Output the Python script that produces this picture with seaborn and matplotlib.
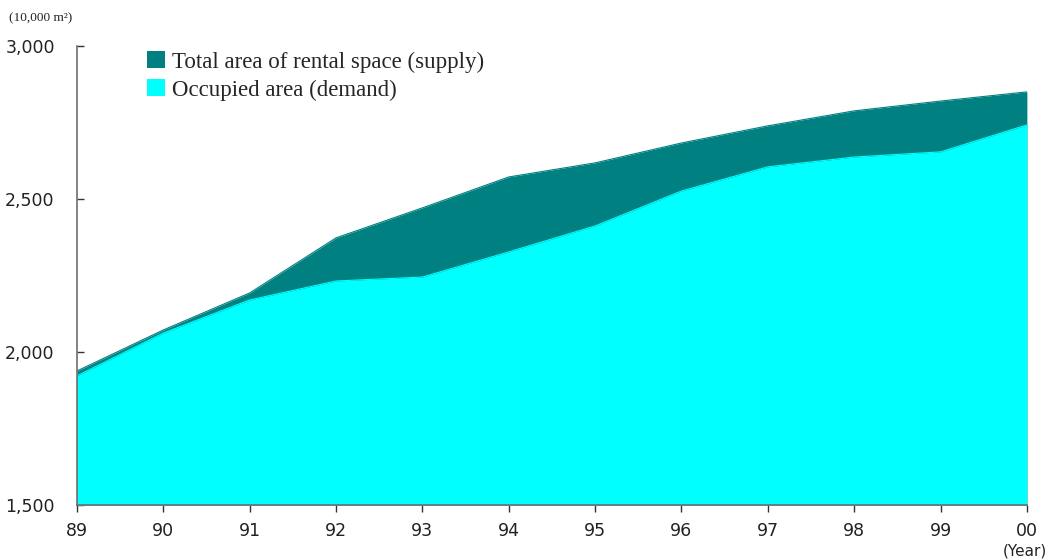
import matplotlib
matplotlib.use("Agg")
import matplotlib.pyplot as plt
import seaborn as sns
import pandas as pd
from matplotlib.patches import Patch

years = ["89", "90", "91", "92", "93", "94", "95", "96", "97", "98", "99", "00"]
supply = [1938, 2072, 2193, 2373, 2471, 2572, 2618, 2683, 2739, 2788, 2820, 2850]
demand = [1922, 2062, 2170, 2232, 2245, 2327, 2412, 2526, 2605, 2637, 2654, 2742]
yticks = [1500, 2000, 2500, 3000]

sns.set_style("white")
plt.rcParams["font.family"] = ["DejaVu Sans"]

df = pd.DataFrame({"pos": range(len(years)), "year": years,
                   "supply": supply, "demand": demand})

fig = plt.figure(figsize=(10.5, 5.6), dpi=100)
ax = fig.add_axes([0.0733, 0.0982, 0.9047, 0.8197])

teal = "#008080"
cyan = "#00FFFF"

# supply area behind, occupied area in front
ax.fill_between(df["pos"], 1500, df["supply"], color=teal, lw=0, zorder=1)
ax.fill_between(df["pos"], 1500, df["demand"], color=cyan, lw=0, zorder=2)
sns.lineplot(data=df, x="pos", y="supply", ax=ax, color=teal, lw=0.8, zorder=3)
sns.lineplot(data=df, x="pos", y="demand", ax=ax, color=cyan, lw=0.8, zorder=3)

ax.set_xlim(0, len(years) - 1)
ax.set_ylim(1500, 3000)
ax.set_xticks(range(len(years)))
ax.set_xticklabels(years)
ax.set_yticks(yticks)
ax.set_yticklabels([f"{v:,}" for v in yticks])
ax.set_xlabel("")
ax.set_ylabel("")

for s in ("top", "right"):
    ax.spines[s].set_visible(False)
for s in ("left", "bottom"):
    ax.spines[s].set_color("#6e6e6e")
    ax.spines[s].set_linewidth(1.2)
    ax.spines[s].set_zorder(5)

ax.tick_params(axis="y", direction="in", length=5, width=1, color="#333333",
               pad=16, labelsize=12.5, left=True)
ax.tick_params(axis="x", direction="out", length=5, width=1, color="#333333",
               pad=7, labelsize=12.5, bottom=True)
for lab in ax.get_xticklabels() + ax.get_yticklabels():
    lab.set_color("#222222")

fig.text(0.009, 0.968, "(10,000 m\u00b2)", family="Liberation Serif",
         fontsize=9.5, color="#222222", va="center", ha="left")
fig.text(0.9975, 0.016, "(Year)", fontsize=11, color="#222222",
         va="center", ha="right")

handles = [Patch(facecolor=teal, edgecolor="none"),
           Patch(facecolor=cyan, edgecolor="none")]
ax.legend(handles, ["Total area of rental space (supply)", "Occupied area (demand)"],
          loc="upper left", bbox_to_anchor=(0.0646, 1.0087), frameon=False,
          prop={"family": "Liberation Serif", "size": 16.5},
          handlelength=0.75, handleheight=0.75, handletextpad=0.3,
          labelspacing=0.3, borderaxespad=0)

fig.savefig("out.png", dpi=100)
